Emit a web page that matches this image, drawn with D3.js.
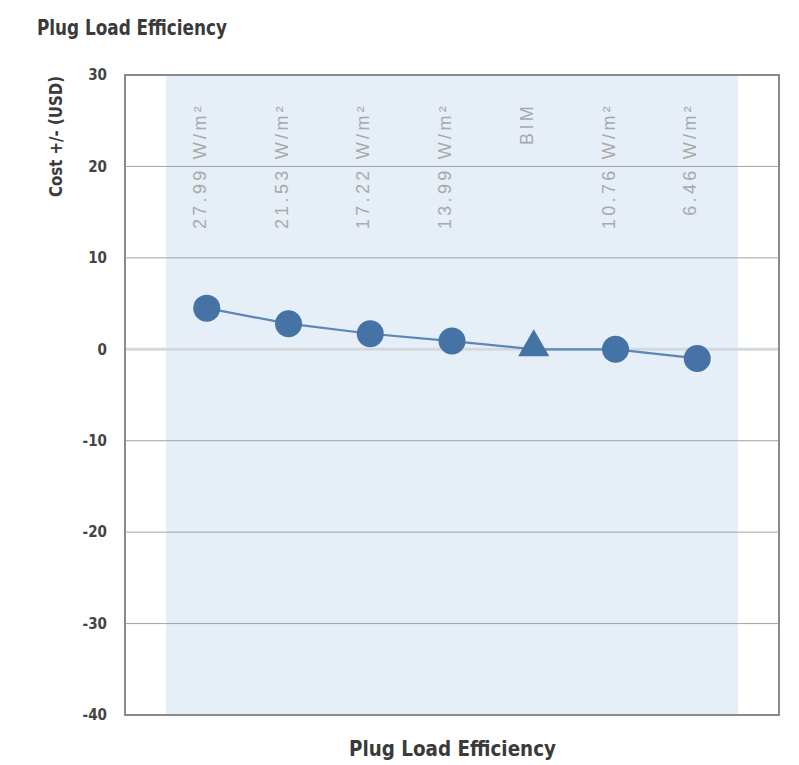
<!DOCTYPE html>
<html><head><meta charset="utf-8">
<script src="https://cdn.jsdelivr.net/npm/d3@7"></script>
<style>body{margin:0;background:#fff}svg{display:block}</style>
</head><body>
<script>
const categories = ["27.99 W/m²","21.53 W/m²","17.22 W/m²","13.99 W/m²","BIM","10.76 W/m²","6.46 W/m²"];
const values = [4.5, 2.8, 1.7, 0.9, 0, 0, -1.0];
const markerTypes = ["circle","circle","circle","circle","triangle","circle","circle"];
const yTicks = [30,20,10,0,-10,-20,-30,-40];
const title = "Plug Load Efficiency";
const xTitle = "Plug Load Efficiency";
const yTitle = "Cost +/- (USD)";

const W=799,H=765;
const svg=d3.select("body").append("svg").attr("width",W).attr("height",H);
const pL=125,pR=779,pT=75,pB=715;
const font="'Liberation Sans Narrow','DejaVu Sans Condensed','Liberation Sans',sans-serif";

const x=d3.scalePoint().domain(categories).range([pL,pR]).padding(1);
const y=d3.scaleLinear().domain([-40,30]).range([pB,pT]);
const step=x.step();

// band shading
svg.append("rect").attr("x",x(categories[0])-step/2).attr("y",pT)
  .attr("width",x(categories[categories.length-1])-x(categories[0])+step).attr("height",pB-pT)
  .attr("fill","#e6eef7");

// gridlines
svg.append("g").selectAll("line").data(yTicks.filter(d=>d!==30&&d!==-40)).join("line")
  .attr("x1",pL).attr("x2",pR).attr("y1",d=>y(d)).attr("y2",d=>y(d))
  .attr("stroke",d=>d===0?"#d5d9de":"#a3a3a3").attr("stroke-width",d=>d===0?3:1);

// frame
svg.append("rect").attr("x",pL).attr("y",pT).attr("width",pR-pL).attr("height",pB-pT)
  .attr("fill","none").attr("stroke","#8a8a8a").attr("stroke-width",2);

// y axis tick labels
const yAxis=d3.axisLeft(y).tickValues(yTicks).tickSize(0).tickPadding(18).tickFormat(d=>String(d));
const ga=svg.append("g").attr("transform",`translate(${pL},0)`).call(yAxis);
ga.select(".domain").remove();
ga.selectAll("text").attr("font-family",font).attr("font-weight","bold").attr("font-size",15).attr("fill","#444");

// category labels (rotated)
svg.append("g").selectAll("text").data(categories).join("text")
  .attr("transform",d=>`translate(${x(d)-1},103) rotate(-90)`)
  .attr("text-anchor","end").attr("font-family","'Liberation Sans',Arial,sans-serif")
  .attr("font-size",18).attr("letter-spacing",3.3).attr("fill","#a9a9a9").text(d=>d);

// line
const line=d3.line().x((d,i)=>x(categories[i])).y(d=>y(d));
svg.append("path").datum(values).attr("d",line).attr("fill","none")
  .attr("stroke","#5a86b8").attr("stroke-width",2.2);

// markers
const g=svg.append("g");
values.forEach((v,i)=>{
  if(markerTypes[i]==="triangle"){
    g.append("path").attr("d",d3.symbol(d3.symbolTriangle,420)())
      .attr("transform",`translate(${x(categories[i])},${y(v)-2})`).attr("fill","#4673a6");
  } else {
    g.append("circle").attr("cx",x(categories[i])).attr("cy",y(v)).attr("r",13.5).attr("fill","#4673a6");
  }
});

// titles
svg.append("text").attr("x",37).attr("y",35).attr("font-family",font).attr("font-weight","bold")
  .attr("font-size",21).attr("fill","#3a3a3a").attr("textLength",190).attr("lengthAdjust","spacingAndGlyphs").text(title);
svg.append("text").attr("x",349).attr("y",756).attr("font-family",font).attr("font-weight","bold")
  .attr("font-size",22).attr("fill","#3a3a3a").attr("textLength",207).attr("lengthAdjust","spacingAndGlyphs").text(xTitle);
svg.append("text").attr("transform","translate(62,197) rotate(-90)").attr("font-family",font).attr("font-weight","bold")
  .attr("font-size",17).attr("fill","#3a3a3a").attr("textLength",121).attr("lengthAdjust","spacingAndGlyphs").text(yTitle);
</script>
</body></html>
